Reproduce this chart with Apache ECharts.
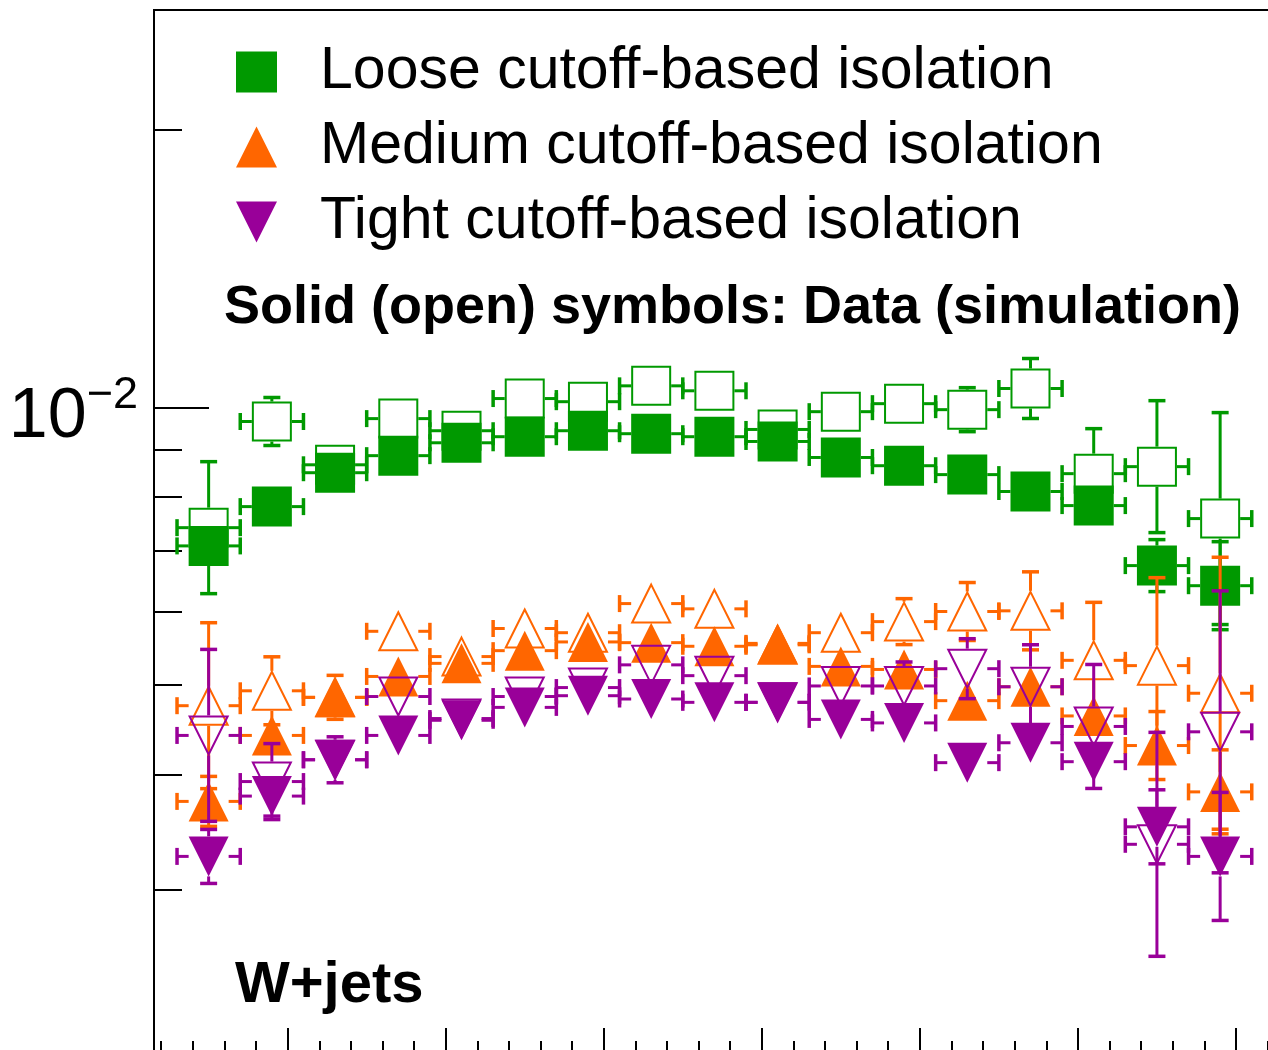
<!DOCTYPE html>
<html>
<head>
<meta charset="utf-8">
<script src="https://cdn.jsdelivr.net/npm/echarts@6.0.0/dist/echarts.min.js"></script>
<style>
html,body{margin:0;padding:0;background:#fff;}
#chart{width:1268px;height:1050px;}
</style>
</head>
<body>
<div id="chart"></div>
<script>
// ---------------- data ----------------
const binCenters = [5, 9, 13, 17, 21, 25, 29, 33, 37, 41, 45, 49, 53, 57, 61, 65, 69];
const binHalfWidth = 2;

const looseDataEff   = [0.00708,0.00781,0.00850,0.00887,0.00916,0.00930,0.00944,0.00937,0.00930,0.00919,0.00883,0.00865,0.00846,0.00811,0.00783,0.00674,0.00641];
const looseDataErrLo = [0.00015,0.00015,0.00015,0.00015,0.00015,0.00015,0.00015,0.00015,0.00015,0.00015,0.00015,0.00015,0.00015,0.00015,0.00015,0.000424,0.000667];
const looseDataErrHi = [0.00015,0.00015,0.00015,0.00015,0.00015,0.00015,0.00015,0.00015,0.00015,0.00015,0.00015,0.00015,0.00015,0.00015,0.00015,0.000452,0.000745];

const looseSimEff    = [0.00741,0.00966,0.00867,0.00973,0.00944,0.01023,0.01015,0.01056,0.01043,0.00947,0.00990,0.01010,0.00995,0.01049,0.00848,0.00863,0.00758];
const looseSimErrLo  = [0.001126,0.000562,0.00015,0.00015,0.00015,0.00015,0.00015,0.00015,0.00015,0.00015,0.00015,0.00015,0.000532,0.000757,0.000901,0.001311,0.001763];
const looseSimErrHi  = [0.001328,0.000597,0.00015,0.00015,0.00015,0.00015,0.00015,0.00015,0.00015,0.00015,0.00015,0.00015,0.000562,0.000816,0.001009,0.001546,0.002297];

const mediumDataEff   = [0.00374,0.00441,0.00485,0.00511,0.00528,0.00545,0.00557,0.00556,0.00551,0.00555,0.00524,0.00520,0.00481,0.00498,0.00463,0.00430,0.00383];
const mediumDataErrLo = [0.000226,0.0001,0.000259,0.0001,0.0001,0.0001,0.0001,0.0001,0.0001,0.0001,0.0001,0.0001,0.0001,0.0001,0.0001,0.000350,0.000381];
const mediumDataErrHi = [0.000241,0.0001,0.000274,0.0001,0.0001,0.0001,0.0001,0.0001,0.0001,0.0001,0.0001,0.0001,0.0001,0.0001,0.0001,0.000381,0.000424];

const mediumSimEff    = [0.00475,0.00493,0.00485,0.00572,0.00537,0.00576,0.00570,0.00613,0.00605,0.00553,0.00570,0.00586,0.00601,0.00602,0.00532,0.00525,0.00490];
const mediumSimErrLo  = [0.000889,0.000401,0.0001,0.0001,0.0001,0.0001,0.0001,0.0001,0.0001,0.0001,0.0001,0.000327,0.000420,0.000559,0.000717,0.001036,0.001411];
const mediumSimErrHi  = [0.001094,0.000437,0.0001,0.0001,0.0001,0.0001,0.0001,0.0001,0.0001,0.0001,0.0001,0.000346,0.000451,0.000616,0.000829,0.001290,0.001982];

const tightDataEff    = [0.00326,0.00379,0.00415,0.00441,0.00458,0.00473,0.00487,0.00483,0.00479,0.00479,0.00459,0.00455,0.00412,0.00433,0.00413,0.00351,0.00326];
const tightDataErrLo  = [0.000213,0.000185,0.000232,0.0001,0.0001,0.0001,0.0001,0.0001,0.0001,0.0001,0.0001,0.0001,0.0001,0.0001,0.0001,0.000310,0.000482];
const tightDataErrHi  = [0.000227,0.000194,0.000245,0.0001,0.0001,0.0001,0.0001,0.0001,0.0001,0.0001,0.0001,0.0001,0.0001,0.0001,0.0001,0.000340,0.000565];

const tightSimEff     = [0.00441,0.00393,0.00415,0.00486,0.00460,0.00486,0.00497,0.00526,0.00512,0.00479,0.00499,0.00499,0.00521,0.00498,0.00451,0.00336,0.00445];
const tightSimErrLo   = [0.000852,0.000356,0.0001,0.0001,0.0001,0.0001,0.0001,0.0001,0.0001,0.0001,0.0001,0.000290,0.000376,0.000496,0.000647,0.000820,0.001321];
const tightSimErrHi   = [0.001057,0.000391,0.0001,0.0001,0.0001,0.0001,0.0001,0.0001,0.0001,0.0001,0.0001,0.000308,0.000405,0.000551,0.000755,0.001084,0.001878];

const xMajorTicks = [10, 20, 30, 40, 50, 60, 70];
const xMinorTicks = [2,4,6,8,12,14,16,18,22,24,26,28,32,34,36,38,42,44,46,48,52,54,56,58,62,64,66,68,72,74,76,78];
const yMajorTicks = [0.01];
const yMinorTicks = [0.002,0.003,0.004,0.005,0.006,0.007,0.008,0.009,0.02];

const legendNames = ['Loose cutoff-based isolation', 'Medium cutoff-based isolation', 'Tight cutoff-based isolation'];
const infoText = 'Solid (open) symbols: Data (simulation)';
const processText = 'W+jets';
const energyText = '(13 TeV)';

// ---------------- styling ----------------
const GREEN = '#009900', ORANGE = '#ff6600', PURPLE = '#990099';
const FONT = '"Liberation Sans", Arial, Helvetica, sans-serif';

function build(eff, lo, hi) {
  return binCenters.map((x, i) => [x, eff[i], lo[i], hi[i]]);
}

function makeRenderItem(shape, filled, color) {
  return function (params, api) {
    const x = api.value(0), y = api.value(1), lo = api.value(2), hi = api.value(3);
    const c = api.coord([x, y]);
    const left = api.coord([x - binHalfWidth, y])[0];
    const right = api.coord([x + binHalfWidth, y])[0];
    const yTop = api.coord([x, y + hi])[1];
    const yBot = api.coord([x, y - lo])[1];
    const hw = 20, hh = 20, cap = 8.5;
    const bar = { stroke: color, lineWidth: 3 };
    const capS = { stroke: color, lineWidth: 3.5 };
    const ch = [];
    const L = (x1, y1, x2, y2, st) => ch.push({ type: 'line', shape: { x1, y1, x2, y2 }, style: st });
    L(left, c[1], c[0] - hw, c[1], bar);
    L(c[0] + hw, c[1], right, c[1], bar);
    L(left, c[1] - cap, left, c[1] + cap, capS);
    L(right, c[1] - cap, right, c[1] + cap, capS);
    if (yTop < c[1] - hh) { L(c[0], c[1] - hh, c[0], yTop, bar); L(c[0] - cap, yTop, c[0] + cap, yTop, capS); }
    if (yBot > c[1] + hh) { L(c[0], c[1] + hh, c[0], yBot, bar); L(c[0] - cap, yBot, c[0] + cap, yBot, capS); }
    const ms = filled ? { fill: color, stroke: 'none' } : { fill: 'none', stroke: color, lineWidth: 2 };
    const ins = filled ? 0 : 1;
    if (shape === 'square') {
      ch.push({ type: 'rect', shape: { x: c[0] - hw + ins, y: c[1] - hh + ins, width: 2 * (hw - ins), height: 2 * (hh - ins) }, style: ms });
    } else if (shape === 'up') {
      ch.push({ type: 'polygon', shape: { points: [[c[0], c[1] - hh + ins], [c[0] + hw - ins, c[1] + hh - ins], [c[0] - hw + ins, c[1] + hh - ins]] }, style: ms });
    } else {
      ch.push({ type: 'polygon', shape: { points: [[c[0] - hw + ins, c[1] - hh + ins], [c[0] + hw - ins, c[1] - hh + ins], [c[0], c[1] + hh - ins]] }, style: ms });
    }
    return { type: 'group', children: ch };
  };
}

function series(name, data, shape, filled, color) {
  return {
    type: 'custom', name: name, data: data,
    xAxisIndex: 0, yAxisIndex: 0,
    encode: { x: 0, y: 1 },
    itemStyle: { color: color },
    renderItem: makeRenderItem(shape, filled, color),
    silent: true, clip: false
  };
}

const chart = echarts.init(document.getElementById('chart'), null, { renderer: 'canvas' });

const axisTickStyle = { color: '#000', width: 2 };
const xMin = 1.543, xMax = 80;
const yMin = 0.002, yMax = 0.027;

const option = {
  animation: false,
  backgroundColor: '#fff',
  textStyle: { fontFamily: FONT },
  grid: {
    left: 154, top: 10, width: 1240, height: 1042,
    show: true, borderColor: '#000', borderWidth: 2, backgroundColor: 'transparent',
    containLabel: false, outerBoundsMode: 'none'
  },
  xAxis: [
    { type: 'value', min: xMin, max: xMax, position: 'bottom',
      axisLine: { show: false }, splitLine: { show: false }, axisLabel: { show: false },
      axisTick: { show: true, inside: true, length: 24, customValues: xMajorTicks, lineStyle: axisTickStyle } },
    { type: 'value', min: xMin, max: xMax, position: 'bottom',
      axisLine: { show: false }, splitLine: { show: false }, axisLabel: { show: false },
      axisTick: { show: true, inside: true, length: 11, customValues: xMinorTicks, lineStyle: axisTickStyle } }
  ],
  yAxis: [
    { type: 'log', logBase: 10, min: yMin, max: yMax, position: 'left',
      axisLine: { show: false }, splitLine: { show: false },
      axisTick: { show: true, inside: true, length: 55, customValues: yMajorTicks, lineStyle: axisTickStyle },
      axisLabel: {
        show: true, customValues: yMajorTicks, margin: 16, padding: [20, 0, 0, 0],
        formatter: function () { return '{a|10}{b|\u22122}'; },
        rich: {
          a: { fontSize: 70, lineHeight: 70, color: '#000', fontFamily: FONT },
          b: { fontSize: 45, lineHeight: 45, color: '#000', fontFamily: FONT, padding: [0, 0, 44, 0] }
        }
      } },
    { type: 'log', logBase: 10, min: yMin, max: yMax, position: 'left',
      axisLine: { show: false }, splitLine: { show: false }, axisLabel: { show: false },
      axisTick: { show: true, inside: true, length: 28, customValues: yMinorTicks, lineStyle: axisTickStyle } }
  ],
  legend: {
    left: 236, top: 39, padding: 0, orient: 'vertical', selectedMode: false,
    itemWidth: 41, itemHeight: 41, itemGap: 9,
    textStyle: { fontFamily: FONT, fontSize: 59, lineHeight: 59, color: '#000', padding: [0, 0, 7, 38] },
    data: [
      { name: legendNames[0], icon: 'rect' },
      { name: legendNames[1], icon: 'triangle' },
      { name: legendNames[2], icon: 'path://M0,0L40,0L20,40Z' }
    ]
  },
  graphic: [
    { type: 'text', x: 224, y: 308, style: { text: infoText, font: 'bold 54px ' + FONT, fill: '#000', align: 'left', verticalAlign: 'middle' } },
    { type: 'text', x: 235, y: 986, style: { text: processText, font: 'bold 58px ' + FONT, fill: '#000', align: 'left', verticalAlign: 'middle' } },
    { type: 'text', x: 1184, y: 1, style: { text: energyText, font: '43px ' + FONT, fill: '#000', align: 'right', verticalAlign: 'bottom' } }
  ],
  series: [
    series(legendNames[0] + ' (simulation)', build(looseSimEff, looseSimErrLo, looseSimErrHi), 'square', false, GREEN),
    series(legendNames[0], build(looseDataEff, looseDataErrLo, looseDataErrHi), 'square', true, GREEN),
    series(legendNames[1] + ' (simulation)', build(mediumSimEff, mediumSimErrLo, mediumSimErrHi), 'up', false, ORANGE),
    series(legendNames[1], build(mediumDataEff, mediumDataErrLo, mediumDataErrHi), 'up', true, ORANGE),
    series(legendNames[2] + ' (simulation)', build(tightSimEff, tightSimErrLo, tightSimErrHi), 'down', false, PURPLE),
    series(legendNames[2], build(tightDataEff, tightDataErrLo, tightDataErrHi), 'down', true, PURPLE)
  ]
};

chart.setOption(option);
</script>
</body>
</html>
